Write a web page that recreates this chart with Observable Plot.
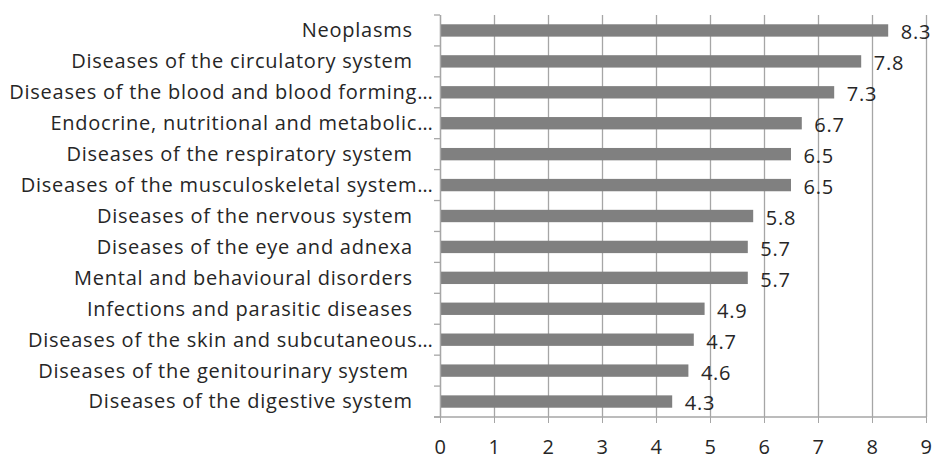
<!DOCTYPE html>
<html>
<head>
<meta charset="utf-8">
<script src="https://cdn.jsdelivr.net/npm/d3@7"></script>
<script src="https://cdn.jsdelivr.net/npm/@observablehq/plot@0.6"></script>
<style>
  html, body { margin: 0; padding: 0; background: #fff; }
  #chart svg { display: block; }
  #chart svg text { letter-spacing: 0.75px; }
</style>
</head>
<body>
<div id="chart"></div>
<script>
const categories = [
  "Neoplasms\u2003",
  "Diseases of the circulatory system\u2003",
  "Diseases of the blood and blood forming…",
  "Endocrine, nutritional and metabolic…",
  "Diseases of the respiratory system\u2003",
  "Diseases of the musculoskeletal system…",
  "Diseases of the nervous system\u2003",
  "Diseases of the eye and adnexa\u2003",
  "Mental and behavioural disorders\u2003",
  "Infections and parasitic diseases\u2003",
  "Diseases of the skin and subcutaneous…",
  "Diseases of the genitourinary system\u2003\u2009",
  "Diseases of the digestive system\u2003"
];
const values = [8.3, 7.8, 7.3, 6.7, 6.5, 6.5, 5.8, 5.7, 5.7, 4.9, 4.7, 4.6, 4.3];
const xTicks = [0, 1, 2, 3, 4, 5, 6, 7, 8, 9];

const data = categories.map((c, i) => ({category: c, value: values[i]}));

const gridColor = "#a6a6a6";
const textColor = "#262626";
const fs = 20;

const chart = Plot.plot({
  width: 935,
  height: 457,
  marginLeft: 440,
  marginRight: 9,
  marginTop: 15,
  marginBottom: 40,
  style: {fontFamily: "'Open Sans', sans-serif", fontSize: fs + "px", color: textColor, background: "#fff"},
  x: {domain: [0, 9], ticks: xTicks, label: null},
  y: {domain: categories, paddingInner: 0.6, paddingOuter: 0.3, round: false, label: null},
  marks: [
    Plot.gridX(xTicks, {stroke: gridColor, strokeOpacity: 1, strokeWidth: 1.3}),
    Plot.barX(data, {x: "value", y: "category", fill: "#808080"}),
    Plot.text(data, {
      x: "value", y: "category",
      text: d => d.value.toFixed(1),
      textAnchor: "start", dx: 12, dy: 2,
      fill: textColor, fontSize: fs
    }),
    Plot.ruleX([0], {stroke: gridColor, strokeWidth: 1.3}),
    Plot.axisX({
      ticks: xTicks, tickSize: 6, tickPadding: 16, stroke: gridColor, label: null,
      fontSize: fs, fill: textColor, tickFormat: d => String(d)
    }),
    Plot.axisY({tickSize: 0, tickPadding: 7, fontSize: fs, fill: textColor, label: null}),
    (index, scales, values, dims) => {
      const y = scales.y;
      const step = y.step ? y.step() : (dims.height - dims.marginTop - dims.marginBottom) / categories.length;
      const top = dims.marginTop;
      const x0 = scales.x(0);
      const g = d3.create("svg:g").attr("stroke", gridColor).attr("stroke-width", 1.3);
      for (let k = 0; k <= categories.length; k++) {
        const yy = top + k * step;
        g.append("line").attr("x1", x0 - 6).attr("x2", x0).attr("y1", yy).attr("y2", yy);
      }
      const yb = dims.height - dims.marginBottom;
      g.append("line").attr("x1", x0 - 6).attr("x2", scales.x(9)).attr("y1", yb).attr("y2", yb);
      return g.node();
    }
  ]
});

document.getElementById("chart").appendChild(chart);
</script>
</body>
</html>
